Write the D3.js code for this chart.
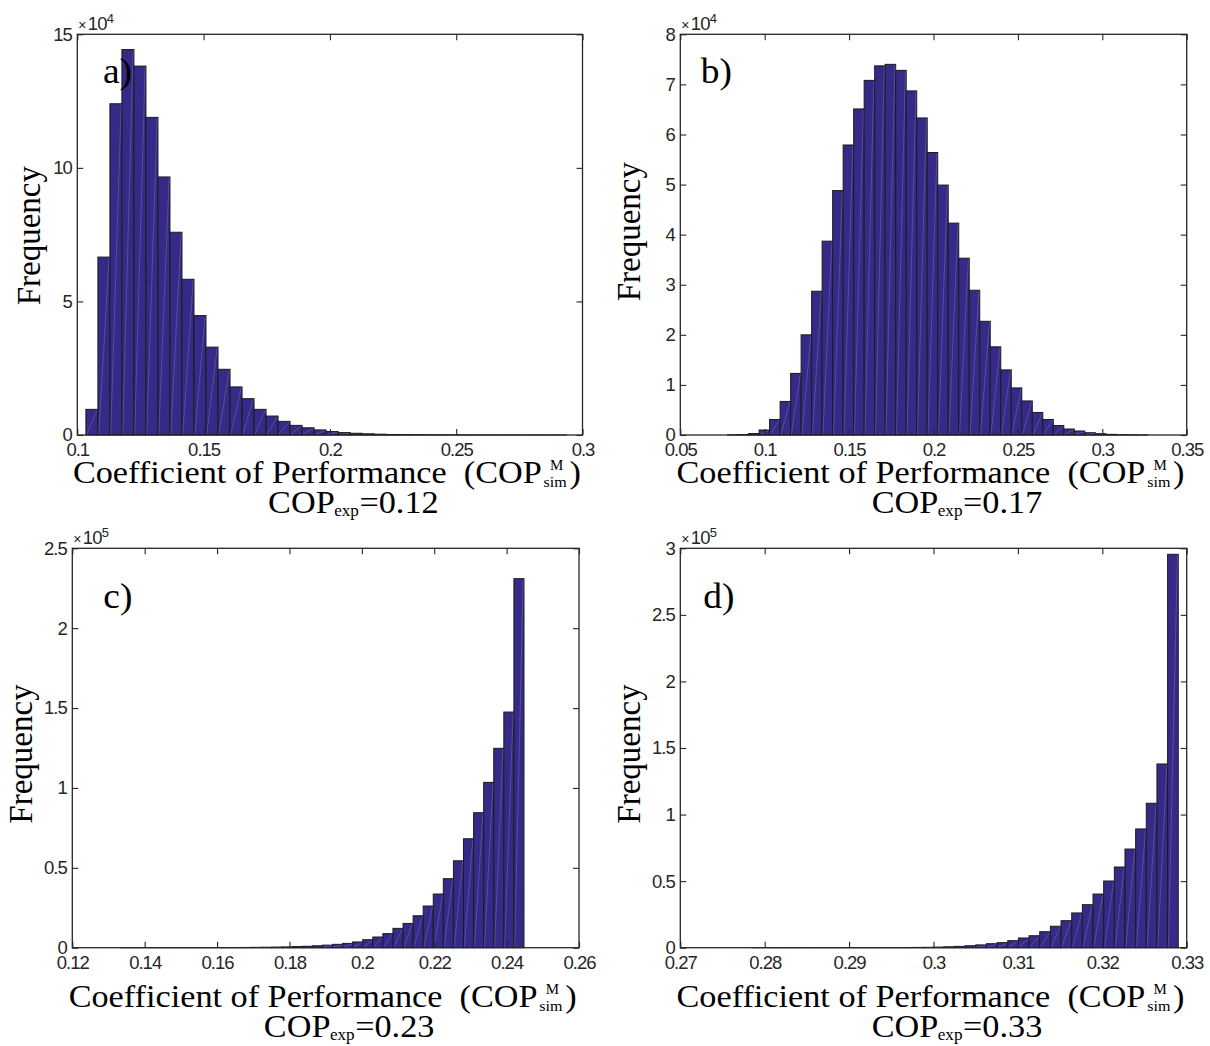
<!DOCTYPE html>
<html>
<head>
<meta charset="utf-8">
<script src="https://cdn.jsdelivr.net/npm/d3@7"></script>
<style>
  body { margin: 0; background: #fff; }
  svg { display: block; }
</style>
</head>
<body>
<svg id="fig" width="1210" height="1046"></svg>
<script>
// ---- Histogram counts, 40 equal bins per panel (in units of the axis multiplier) ----
// a) COP_exp = 0.12, counts x 10^4
const countsA = [0.96, 6.66, 12.40, 14.43, 13.81, 11.89, 9.66, 7.59, 5.83, 4.47,
                 3.29, 2.46, 1.80, 1.36, 0.96, 0.71, 0.51, 0.36, 0.27, 0.19,
                 0.13, 0.09, 0.065, 0.045, 0.03, 0.02, 0.015, 0.011, 0.008, 0.006,
                 0.004, 0.003, 0.002, 0.0015, 0.001, 0.0008, 0.0006, 0.0004, 0.0003, 0.0002];
// b) COP_exp = 0.17, counts x 10^4
const countsB = [0.003, 0.01, 0.03, 0.10, 0.31, 0.67, 1.23, 2.00, 2.87, 3.87,
                 4.88, 5.79, 6.51, 7.08, 7.37, 7.40, 7.28, 6.87, 6.33, 5.64,
                 4.99, 4.23, 3.53, 2.89, 2.27, 1.76, 1.30, 0.94, 0.68, 0.45,
                 0.31, 0.19, 0.12, 0.08, 0.046, 0.026, 0.013, 0.006, 0.003, 0.001];
// c) COP_exp = 0.23, counts x 10^5
const countsC = [0.00005, 0.00005, 0.0001, 0.0001, 0.00015, 0.0002, 0.0003, 0.0004, 0.0005, 0.0007,
                 0.001, 0.0013, 0.0017, 0.0022, 0.003, 0.004, 0.005, 0.007, 0.009, 0.012,
                 0.016, 0.021, 0.027, 0.036, 0.050, 0.067, 0.088, 0.121, 0.152, 0.200,
                 0.261, 0.336, 0.432, 0.544, 0.682, 0.845, 1.035, 1.248, 1.475, 2.31];
// d) COP_exp = 0.33, counts x 10^5
const countsD = [0.00003, 0.00004, 0.00005, 0.00007, 0.0001, 0.00013, 0.00017, 0.00023, 0.0003, 0.0004,
                 0.0005, 0.0007, 0.0009, 0.0012, 0.0016, 0.0022, 0.003, 0.0045, 0.007, 0.010,
                 0.015, 0.021, 0.030, 0.038, 0.053, 0.073, 0.090, 0.120, 0.161, 0.203,
                 0.261, 0.323, 0.403, 0.501, 0.606, 0.741, 0.892, 1.085, 1.380, 2.955];

// Range spanned by the 40 bins of each histogram
const binRangeA = [0.1034, 0.2936];
const binRangeB = [0.0780, 0.3270];
const binRangeC = [0.1334, 0.2448];
const binRangeD = [0.2785, 0.3290];

// Axis limits
const xDomainA = [0.1, 0.3],   yDomainA = [0, 15];
const xDomainB = [0.05, 0.35], yDomainB = [0, 8];
const xDomainC = [0.12, 0.26], yDomainC = [0, 2.5];
const xDomainD = [0.27, 0.33], yDomainD = [0, 3];

// Tick labels
const xTickLabelsA = ["0.1", "0.15", "0.2", "0.25", "0.3"];
const xTickLabelsB = ["0.05", "0.1", "0.15", "0.2", "0.25", "0.3", "0.35"];
const xTickLabelsC = ["0.12", "0.14", "0.16", "0.18", "0.2", "0.22", "0.24", "0.26"];
const xTickLabelsD = ["0.27", "0.28", "0.29", "0.3", "0.31", "0.32", "0.33"];
const yTickLabelsA = ["0", "5", "10", "15"];
const yTickLabelsB = ["0", "1", "2", "3", "4", "5", "6", "7", "8"];
const yTickLabelsC = ["0", "0.5", "1", "1.5", "2", "2.5"];
const yTickLabelsD = ["0", "0.5", "1", "1.5", "2", "2.5", "3"];

// Panel text
const panelTags = ["a)", "b)", "c)", "d)"];
const copExpValues = ["0.12", "0.17", "0.23", "0.33"];
const multiplierExps = ["4", "4", "5", "5"];

// ---- Layout (pixels) ----
const layouts = [
  { l: 77.3,  r: 582.5,  t: 34.3,  b: 435,   tag: [25.7, 48.7], ylab: [-37.5, 1],  xl1: 47.5, xl2: 77.5 },
  { l: 680.3, r: 1186.7, t: 34.3,  b: 435,   tag: [20.5, 49],   ylab: [-40, -3],   xl1: 47.5, xl2: 77.5 },
  { l: 72.3,  r: 579,    t: 548.3, b: 947.7, tag: [31,   60],   ylab: [-40.6, 6],  xl1: 59,   xl2: 89 },
  { l: 680.3, r: 1186.7, t: 548.3, b: 947.7, tag: [23,   60],   ylab: [-40.3, 6],  xl1: 59,   xl2: 89 }
];

const panels = [
  { counts: countsA, bins: binRangeA, xd: xDomainA, yd: yDomainA, xt: xTickLabelsA, yt: yTickLabelsA },
  { counts: countsB, bins: binRangeB, xd: xDomainB, yd: yDomainB, xt: xTickLabelsB, yt: yTickLabelsB },
  { counts: countsC, bins: binRangeC, xd: xDomainC, yd: yDomainC, xt: xTickLabelsC, yt: yTickLabelsC },
  { counts: countsD, bins: binRangeD, xd: xDomainD, yd: yDomainD, xt: xTickLabelsD, yt: yTickLabelsD }
];

const SERIF = '"Liberation Serif", "Times New Roman", Times, serif';
const SANS = '"Liberation Sans", Arial, Helvetica, sans-serif';
const AXIS_COLOR = "#262626";
const BAR_FILL = "#352a87";
const BAR_EDGE = "#1c1c1c";
const STRETCH = 1.07;   // horizontal widening of the serif labels

const svg = d3.select("#fig");

panels.forEach((p, i) => {
  const L = layouts[i];
  const g = svg.append("g");

  const x = d3.scaleLinear().domain(p.xd).range([L.l, L.r]);
  const y = d3.scaleLinear().domain(p.yd).range([L.b, L.t]);

  // histogram bins
  const n = p.counts.length;
  const w = (p.bins[1] - p.bins[0]) / n;
  const bins = p.counts.map((v, k) => ({ x0: p.bins[0] + k * w, x1: p.bins[0] + (k + 1) * w, v }));

  const bars = g.append("g");
  bars.selectAll("rect").data(bins).join("rect")
    .attr("x", d => x(d.x0))
    .attr("width", d => x(d.x1) - x(d.x0))
    .attr("y", d => y(d.v))
    .attr("height", d => y(0) - y(d.v))
    .attr("fill", BAR_FILL)
    .attr("stroke", BAR_EDGE)
    .attr("stroke-width", 1);

  // faint diagonal seams inside each bar
  bars.selectAll("line").data(bins.filter(d => y(0) - y(d.v) > 2)).join("line")
    .attr("x1", d => x(d.x0) + 0.8)
    .attr("y1", y(0) - 0.8)
    .attr("x2", d => x(d.x1) - 0.8)
    .attr("y2", d => y(d.v) + 0.8)
    .attr("stroke", "#ffffff")
    .attr("stroke-opacity", 0.28)
    .attr("stroke-width", 0.6);

  const xVals = p.xt.map(Number);
  const yVals = p.yt.map(Number);

  // bottom axis with labels, ticks pointing inward
  const gx = g.append("g").attr("transform", `translate(0,${L.b})`)
    .call(d3.axisBottom(x).tickValues(xVals).tickFormat((d, k) => p.xt[k])
      .tickSizeInner(-6).tickSizeOuter(0).tickPadding(8));
  // top axis (ticks only)
  const gxt = g.append("g").attr("transform", `translate(0,${L.t})`)
    .call(d3.axisTop(x).tickValues(xVals).tickFormat("").tickSizeInner(-6).tickSizeOuter(0));
  // left axis with labels
  const gy = g.append("g").attr("transform", `translate(${L.l},0)`)
    .call(d3.axisLeft(y).tickValues(yVals).tickFormat((d, k) => p.yt[k])
      .tickSizeInner(-6).tickSizeOuter(0).tickPadding(5.5));
  // right axis (ticks only)
  const gyr = g.append("g").attr("transform", `translate(${L.r},0)`)
    .call(d3.axisRight(y).tickValues(yVals).tickFormat("").tickSizeInner(-6).tickSizeOuter(0));

  [gx, gxt, gy, gyr].forEach(a => {
    a.select(".domain").remove();
    a.attr("font-size", null).attr("font-family", null);
    a.selectAll(".tick line").attr("stroke", AXIS_COLOR).attr("stroke-width", 1.1);
    a.selectAll(".tick text")
      .attr("fill", AXIS_COLOR)
      .style("font-family", SANS)
      .style("font-size", "18.5px")
      .style("letter-spacing", "-1px");
  });

  // axes box
  g.append("rect")
    .attr("x", L.l).attr("y", L.t)
    .attr("width", L.r - L.l).attr("height", L.b - L.t)
    .attr("fill", "none").attr("stroke", AXIS_COLOR).attr("stroke-width", 1.3);

  // multiplier "×10^n"
  const mult = g.append("text")
    .attr("x", L.l + 1).attr("y", L.t - 4.5)
    .style("font-family", SANS).attr("fill", AXIS_COLOR).style("letter-spacing", "-0.8px");
  mult.append("tspan").style("font-size", "14px").text("×");
  mult.append("tspan").style("font-size", "18.5px").attr("dx", 2).text("10");
  mult.append("tspan").style("font-size", "13px").attr("dy", -7).text(multiplierExps[i]);

  // panel tag
  g.append("text")
    .attr("transform", `translate(${L.l + L.tag[0]},${L.t + L.tag[1]}) scale(${STRETCH},1)`)
    .attr("font-family", SERIF).attr("font-size", 35).attr("fill", "#000")
    .text(panelTags[i]);

  // y label
  g.append("text")
    .attr("transform", `translate(${L.l + L.ylab[0]},${(L.t + L.b) / 2 + L.ylab[1]}) rotate(-90)`)
    .attr("text-anchor", "middle")
    .attr("font-family", SERIF).attr("font-size", 33).attr("fill", "#000")
    .text("Frequency");

  // x label, line 1: Coefficient of Performance  (COP^M_sim)
  const cx = (L.l + L.r) / 2;
  const l1 = g.append("g").attr("font-family", SERIF).attr("fill", "#000");
  const t1 = l1.append("text").attr("font-size", 32).style("white-space", "pre")
    .text("Coefficient of Performance  (COP");
  const w1 = t1.node().getComputedTextLength();
  const sub1 = l1.append("text").attr("x", w1 + 1.5).attr("y", 4).attr("font-size", 15).text("sim");
  const ws = sub1.node().getComputedTextLength();
  l1.append("text").attr("x", w1 + 7.5).attr("y", -12.5).attr("font-size", 14).text("M");
  const close = l1.append("text").attr("x", w1 + 1.5 + ws + 2.5).attr("font-size", 32).text(")");
  const W1 = w1 + 1.5 + ws + 2.5 + close.node().getComputedTextLength();
  l1.attr("transform", `translate(${cx - 3 - W1 * STRETCH / 2},${L.b + L.xl1}) scale(${STRETCH},1)`);

  // x label, line 2: COP_exp=value
  const l2 = g.append("g").attr("font-family", SERIF).attr("fill", "#000");
  const c1 = l2.append("text").attr("font-size", 32).text("COP");
  const wc = c1.node().getComputedTextLength();
  const sub2 = l2.append("text").attr("x", wc - 0.5).attr("y", 3).attr("font-size", 16).text("exp");
  const we = sub2.node().getComputedTextLength();
  const rest = l2.append("text").attr("x", wc - 0.5 + we + 0.5).attr("font-size", 32).text("=" + copExpValues[i]);
  const W2 = wc + we + rest.node().getComputedTextLength();
  l2.attr("transform", `translate(${cx + 23.5 - W2 * STRETCH / 2},${L.b + L.xl2}) scale(${STRETCH},1)`);
});
</script>
</body>
</html>
